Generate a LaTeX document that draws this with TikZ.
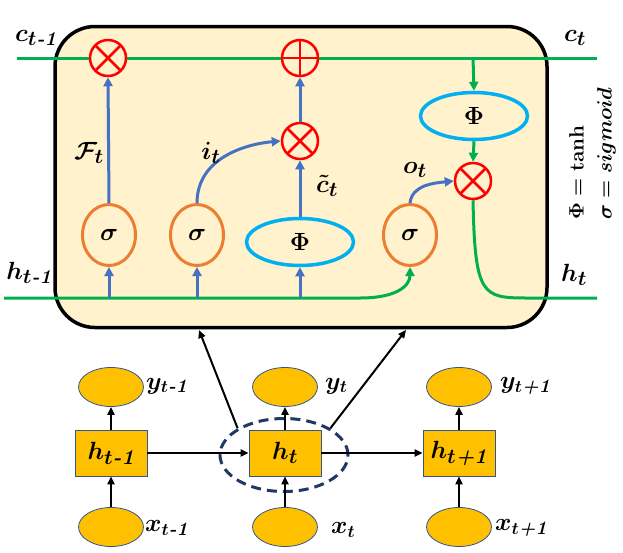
\documentclass[tikz,border=0pt]{standalone}
\usepackage{amsmath,amssymb}
\usetikzlibrary{arrows.meta,shapes.geometric,calc}
\definecolor{lgreen}{HTML}{00B050}
\definecolor{lblue}{HTML}{4472C4}
\definecolor{lorange}{HTML}{ED7D31}
\definecolor{lcyan}{HTML}{00B0F0}
\definecolor{lcream}{HTML}{FFF2CC}
\definecolor{lgold}{HTML}{FFC000}
\definecolor{ledge}{HTML}{2F5597}
\definecolor{lnavy}{HTML}{1F3864}
\newcommand{\mo}{\text{\bfseries\itshape -1}}
\newcommand{\po}{\text{\bfseries\itshape +1}}
\begin{document}
\begin{tikzpicture}[x=1pt,y=-1pt,
  lbl/.style={font=\fontsize{28}{32}\selectfont\boldmath, inner sep=0},
  lblb/.style={font=\fontsize{27}{30}\selectfont\boldmath, inner sep=0, anchor=west},
  cellbox/.style={draw=black, line width=3.5pt, fill=lcream, rounded corners=40pt, minimum width=492pt, minimum height=301pt, inner sep=0},
  opx/.style={circle, draw=red, fill=lcream, line width=2.5pt, minimum size=36pt, inner sep=0},
  otimes/.style={opx, path picture={\draw[red,line width=2.5pt] (path picture bounding box.north west) -- (path picture bounding box.south east) (path picture bounding box.north east) -- (path picture bounding box.south west);}},
  oplus/.style={opx, path picture={\draw[red,line width=2.5pt] (path picture bounding box.north) -- (path picture bounding box.south) (path picture bounding box.west) -- (path picture bounding box.east);}},
  sig/.style={ellipse, draw=lorange, line width=3pt, fill=lcream, minimum width=53pt, minimum height=61pt, inner sep=0, font=\fontsize{31}{34}\selectfont\boldmath},
  phi/.style={ellipse, draw=lcyan, line width=3.5pt, fill=lcream, minimum width=107pt, minimum height=47pt, inner sep=0, font=\fontsize{25}{28}\selectfont\boldmath},
  gline/.style={draw=lgreen, line width=3pt},
  garrow/.style={gline, -{Triangle[length=9pt,width=9pt]}},
  barrow/.style={draw=lblue, line width=3pt, -{Triangle[length=9pt,width=9pt]}},
  gold/.style={ellipse, fill=lgold, draw=ledge, line width=0.8pt, minimum width=65pt, minimum height=39pt, inner sep=0},
  hbox/.style={rectangle, fill=lgold, draw=ledge, line width=0.8pt, minimum width=72pt, minimum height=46pt, inner sep=0, font=\fontsize{30}{32}\selectfont\boldmath},
  karrow/.style={draw=black, line width=2pt, -{Triangle[length=8pt,width=7pt]}},
  dashell/.style={ellipse, draw=lnavy, line width=3pt, dash pattern=on 10pt off 6pt, minimum width=128pt, minimum height=73pt, inner sep=0}
]
\useasboundingbox (0,0) rectangle (623,552);
% LSTM cell
\node[cellbox] (cell) at (301,177) {};
\coordinate (cs) at (17,58);
\coordinate (ce) at (597,58);
\coordinate (csp) at (473,58);
\coordinate (hs) at (4,298);
\coordinate (he) at (597,298);
\node[otimes] (fx) at (108,58) {};
\node[oplus] (plus) at (300,58) {};
\node[otimes] (ix) at (300,141) {};
\node[otimes] (ox) at (473,181) {};
\node[phi] (po) at (474,116) {$\Phi$};
\node[sig] (s1) at (109,235) {$\sigma$};
\node[sig] (s2) at (197,235) {$\sigma$};
\node[phi] (pc) at (300,242) {$\Phi$};
\node[sig] (s3) at (410,235) {$\sigma$};
\draw[gline] (cs) -- (fx) -- (plus) -- (ce);
\draw[garrow] (csp) -- (po.north);
\draw[garrow] (po.south) -- (ox.north);
\draw[garrow] (hs) -- (360,298) .. controls (398,298) and (410,285) .. (s3.south);
\draw[gline] (ox.south) .. controls (475,296) and (482,298) .. (528,298) -- (he);
\draw[barrow] (s1 |- hs) -- (s1.south);
\draw[barrow] (s2 |- hs) -- (s2.south);
\draw[barrow] (pc |- hs) -- (pc.south);
\draw[barrow] (s1.north) -- (fx.south);
\draw[barrow] (pc.north) -- (ix.south);
\draw[barrow] (ix.north) -- (plus.south);
\draw[barrow] (s2.north) .. controls +(0,-45) and +(-35,3) .. (ix.west);
\draw[barrow] (s3.north) .. controls +(2,-18) and +(-20,2) .. (ox.west);
% labels
\node[lbl] (lc0) at (36,38) {$c_{t\mo}$};
\node[lbl] (lc1) at (575,38) {$c_t$};
\node[lbl] (lh0) at (29,273) {$h_{t\mo}$};
\node[lbl] (lh1) at (574,275) {$h_t$};
\node[lbl] (lf) at (89,153) {$\mathcal{F}_t$};
\node[lbl] (li) at (211,153) {$i_t$};
\node[lbl] (lct) at (327,186) {$\tilde{c}_t$};
\node[lbl] (lo) at (415,170) {$o_t$};
\node[font=\fontsize{22}{28}\selectfont\boldmath, rotate=90, anchor=north west, align=left, inner sep=0] (leg) at (569,220) {$\Phi = \mathrm{tanh}$\\ $\sigma = sigmoid$};
% unrolled RNN
\node[gold] (y0) at (111,387) {};
\node[gold] (y1) at (285,387) {};
\node[gold] (y2) at (459,387) {};
\node[hbox] (h0) at (111,453) {$h_{t\mo}$};
\node[hbox] (h1) at (285,453) {$h_t$};
\node[hbox] (h2) at (459,453) {$h_{t\po}$};
\node[gold] (x0) at (111,527) {};
\node[gold] (x1) at (285,527) {};
\node[gold] (x2) at (459,527) {};
\node[dashell] (de) at (284,455) {};
\coordinate (tl) at (199,330);
\coordinate (tr) at (406,330);
\foreach \i in {0,1,2} {
  \draw[karrow] (x\i) -- (h\i);
  \draw[karrow] (h\i) -- (y\i);
}
\draw[karrow] (h0) -- (h1);
\draw[karrow] (h1) -- (h2);
\draw[karrow] (de.150) -- (tl);
\draw[karrow] (de.30) -- (tr);
\node[lblb] (ly0) at (146,386) {$y_{t\mo}$};
\node[lblb] (ly1) at (325,386) {$y_t$};
\node[lblb] (ly2) at (500,386) {$y_{t\po}$};
\node[lblb] (lx0) at (145,528) {$x_{t\mo}$};
\node[lblb] (lx1) at (331,530) {$x_t$};
\node[lblb] (lx2) at (495,528) {$x_{t\po}$};
\end{tikzpicture}
\end{document}
